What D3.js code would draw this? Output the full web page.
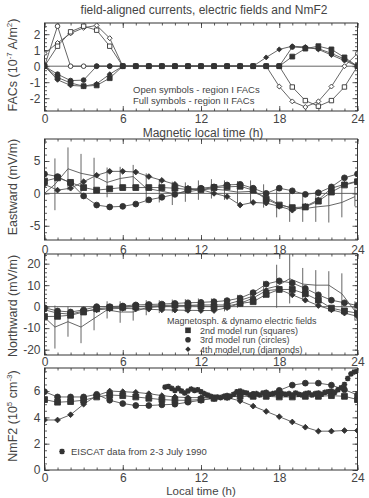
<!DOCTYPE html>
<html>
<head>
<meta charset="utf-8">
<script src="https://cdn.jsdelivr.net/npm/d3@7"></script>
<style>
body { margin: 0; background: #fff; }
svg { font-family: "Liberation Sans", Arial, sans-serif; }
</style>
</head>
<body>
<div id="chart"></div>
<script>
// ---- data ----
var hours = [0,1,2,3,4,5,6,7,8,9,10,11,12,13,14,15,16,17,18,19,20,21,22,23,24];
var hourTicks = [0, 6, 12, 18, 24];

// FACs (10^-7 A/m2): open = region I, full = region II
var facSqOpen = [0,1.25,2.15,2.5,2.25,1.25,0,0,0,0,0,0,0,0,0,0,0,0,0,-1.3,-2.15,-2.5,-2.15,-1.3,0];
var facSqFull = [0,-0.7,-1.05,-1.25,-1.2,-0.75,0,0,0,0,0,0,0,0,0,0,0,0,0,0.6,1.1,1.25,1.05,0.55,0];
var facCiOpen = [0,2.5,0,0,0,0,0,0,0,0,0,0,0,0,0,0,0,0,0,null,null,null,null,null,null];
var facCiFull = [0,-0.5,-0.9,-0.87,0,0,0,0,0,0,0,0,0,0,0,0,0,0,0,1.2,1.15,1.1,0.8,0.45,0];
var facDiOpen = [0.8,1.45,2.05,2.4,2.55,1.75,0,0,0,0,0,0,0,0,0,0,0,0,-1.27,-2.2,-2.55,-2.2,-1.27,0,0.8];
var facDiFull = [0,-0.85,-1.2,-1.25,-1.1,-0.5,0,0,0,0,0,0,0,0,0,0,0,0.55,1.05,1.25,1.2,1.05,0.7,0.35,0];

// observed electric fields (with error bars)
var obsHours = [0,0.8,1.8,2.8,3.8,4.8,5.8,6.8,7.8,8.8,9.8,10.8,11.8,12.8,13.8,14.8,15.8,16.8,17.8,18.8,19.8,20.8,21.8,22.8,23.8];
var obsEast = [0,1.4,3.8,3.1,2.7,1.7,2.3,2.6,0.8,0.4,0,0.2,0.5,0.7,0.5,0.2,0.3,-0.4,-1.5,-2.2,-2.4,-2.1,-1.9,-1.4,-0.5];
var errEast = [0,4,3.3,3,2.8,2.3,1.8,1.8,2.3,1.8,1.8,1.5,1.5,1.5,1.5,1.7,1.7,1.8,2.2,2.2,2,2.3,2.6,2.3,1.5];
var obsNorth = [-5,-9.5,-7,-9.5,-5.5,-1.5,-2.5,-2.5,-0.5,0,0.3,0.5,0.8,0.8,0.8,2.5,4.5,8,9.5,13,10.5,10,10,6,-2];
var errNorth = [0,10,7,7.5,5.5,4,5,4,3.5,3,3,3,3,3,3,3,3,4,10,11.5,7.5,7,6.5,9.5,4.5];

// model runs: squares = 2nd, circles = 3rd, diamonds = 4th
var eastSq = [1.9,2.4,1.7,0.9,0.5,0.7,0.9,0.9,0.9,0.9,0.8,0.6,0.6,0.9,1.0,1.1,0.5,-0.9,-1.8,-2.2,-2.1,-1.2,0.2,1.3,1.8];
var eastCi = [3.0,2.6,1.6,-0.4,-1.8,-2.1,-2.0,-1.65,-1.0,-0.6,-0.15,0.5,0.8,1.0,1.3,1.4,0.8,0.0,0.8,0.4,-0.15,0.1,1.0,2.4,3.0];
var eastDi = [1.4,0.5,0.8,1.8,2.8,3.4,3.4,3.3,2.6,2.0,1.4,0.8,0.6,0.0,-0.5,-1.8,-1.4,-1.5,-2.0,-2.6,-2.0,-1.0,0.8,1.4,1.9];

var northSq = [-4.6,-4.5,-4.0,-2.5,-1.0,-0.5,-0.3,0,0.3,0.5,0.7,0.5,0.3,0,0.3,1.5,2.3,5.7,8,8,6,3,-0.7,-2,-3];
var northCi = [-0.5,-2,-2.5,-1.5,0,0,0.3,0.8,1,1.2,1.5,1.8,2,2.3,2.8,4,6.5,10.5,12,11,8.5,5.5,3,1.8,0.5];
var northDi = [-1.5,-3,-3.5,-2,-1.5,-1,-0.8,-1,-1.2,-1.5,-1.6,-1.7,-1.8,-1.8,-0.5,1.5,4,7.5,8,5.5,3,0.5,-1.5,-3,-4.5];

// NmF2 (10^5 cm^-3)
var nmSq = [5.35,5.15,5.2,5.3,5.55,5.7,5.65,5.55,5.45,5.35,5.3,5.3,5.35,5.45,5.55,5.6,5.6,5.6,5.55,5.55,5.6,5.6,5.65,5.6,5.35];
var nmCi = [5.95,5.55,5.55,5.55,5.75,5.3,5.05,4.9,4.9,4.95,5.0,5.15,5.3,5.45,5.55,5.75,5.75,5.8,6.05,6.45,6.6,6.6,6.45,6.1,5.7];
var nmDi = [3.8,3.8,4.2,5.0,5.65,6.0,5.95,5.9,5.8,5.65,5.55,5.5,5.5,5.5,5.5,5.25,4.85,4.45,4.05,3.65,3.25,2.95,2.95,3.0,3.0];

var eiscatHours = [9.25,9.5,9.75,10,10.25,10.5,10.75,11,11.25,11.5,11.75,12,12.25,12.5,12.75,13,13.25,13.5,13.75,14,
  14.25,14.5,14.75,15,15.25,15.5,15.75,16,16.25,16.5,16.75,17,17.25,17.5,17.75,18,18.25,18.5,18.75,19,
  19.25,19.5,19.75,20,20.25,20.5,20.75,21,21.25,21.5,21.75,22,22.25,22.5,22.75,23,23.25,23.5,23.75,24];
var eiscatNm = [6.3,6.35,6.2,6.05,6.2,6.0,5.85,6.0,6.15,6.05,6.1,5.95,5.8,5.7,5.6,5.5,5.55,5.5,5.6,5.65,
  5.6,5.75,5.95,6.0,5.9,5.85,5.7,5.75,5.8,5.7,5.85,5.9,5.75,5.8,5.85,5.7,5.8,5.75,5.8,5.7,
  5.85,5.75,5.7,5.8,5.85,5.7,5.8,5.85,5.75,5.9,5.95,6.0,5.9,6.1,6.25,6.5,6.95,7.3,7.45,7.5];

// ---- layout ----
var width = 369, height = 498;
var left = 44.5, right = 357.5;
var ink = "#333";
var textCol = "#444";
var lineCol = "#555";

var svg = d3.select("#chart").append("svg")
  .attr("width", width)
  .attr("height", height);

var x = d3.scaleLinear().domain([0, 24]).range([left, right]);

var panelCount = 0;
function makePanel(top, bottom, domain, major, minorStep, pad) {
  var y = d3.scaleLinear().domain(domain).range([bottom, top]);
  var g = svg.append("g");
  var id = "clip" + (panelCount++);
  svg.append("clipPath").attr("id", id)
    .append("rect").attr("x", left).attr("y", top)
    .attr("width", right - left).attr("height", bottom - top);

  var minorY = d3.range(Math.ceil(domain[0] / minorStep) * minorStep, domain[1], minorStep);
  var fmt = d => String(d);

  g.append("g").attr("transform", `translate(0,${bottom})`)
    .call(d3.axisBottom(x).tickValues(hourTicks).tickSize(-5).tickPadding(pad).tickFormat(fmt));
  g.append("g").attr("transform", `translate(0,${bottom})`)
    .call(d3.axisBottom(x).ticks(24).tickSize(-2.5).tickFormat(""));
  g.append("g").attr("transform", `translate(0,${top})`)
    .call(d3.axisTop(x).tickValues(hourTicks).tickSize(-5).tickFormat(""));
  g.append("g").attr("transform", `translate(0,${top})`)
    .call(d3.axisTop(x).ticks(24).tickSize(-2.5).tickFormat(""));
  g.append("g").attr("transform", `translate(${left},0)`)
    .call(d3.axisLeft(y).tickValues(major).tickSize(-5).tickPadding(4).tickFormat(fmt));
  g.append("g").attr("transform", `translate(${left},0)`)
    .call(d3.axisLeft(y).tickValues(minorY).tickSize(-2.5).tickFormat(""));
  g.append("g").attr("transform", `translate(${right},0)`)
    .call(d3.axisRight(y).tickValues(major).tickSize(-5).tickFormat(""));
  g.append("g").attr("transform", `translate(${right},0)`)
    .call(d3.axisRight(y).tickValues(minorY).tickSize(-2.5).tickFormat(""));

  g.selectAll(".domain").remove();
  g.selectAll(".tick line").attr("stroke", ink).attr("stroke-width", 0.8);
  g.selectAll(".tick text").attr("fill", textCol).style("font-size", "12px")
    .style("font-family", '"Liberation Sans", Arial, sans-serif');

  g.append("rect")
    .attr("x", left).attr("y", top)
    .attr("width", right - left).attr("height", bottom - top)
    .attr("fill", "none").attr("stroke", ink).attr("stroke-width", 1);

  var plot = svg.append("g").attr("clip-path", `url(#${id})`);
  return {y: y, plot: plot};
}

function markerPath(shape, s) {
  if (shape === "square") return `M${-s},${-s}H${s}V${s}H${-s}Z`;
  if (shape === "diamond") return `M0,${-s * 1.3}L${s * 1.3},0L0,${s * 1.3}L${-s * 1.3},0Z`;
  if (shape === "star") return `M${-s},0H${s}M0,${-s}V${s}M${-s * 0.75},${-s * 0.75}L${s * 0.75},${s * 0.75}M${-s * 0.75},${s * 0.75}L${s * 0.75},${-s * 0.75}`;
  return d3.symbol(d3.symbolCircle, Math.PI * s * s)();
}

function series(p, xs, ys, shape, filled, size, showLine) {
  var pts = xs.map((h, i) => [h, ys[i]]).filter(d => d[1] !== null);
  if (showLine !== false) {
    p.plot.append("path")
      .datum(xs.map((h, i) => [h, ys[i]]))
      .attr("fill", "none")
      .attr("stroke", lineCol)
      .attr("stroke-width", 0.9)
      .attr("d", d3.line().defined(d => d[1] !== null).x(d => x(d[0])).y(d => p.y(d[1])));
  }
  p.plot.selectAll(null)
    .data(pts).enter()
    .append("path")
    .attr("transform", d => `translate(${x(d[0])},${p.y(d[1])})`)
    .attr("d", markerPath(shape, size))
    .attr("fill", shape === "star" ? "none" : (filled ? ink : "#fff"))
    .attr("stroke", ink)
    .attr("stroke-width", shape === "star" ? 1.6 : 0.9);
}

function zeroLine(p) {
  p.plot.append("line")
    .attr("x1", left).attr("x2", right)
    .attr("y1", p.y(0)).attr("y2", p.y(0))
    .attr("stroke", lineCol).attr("stroke-width", 0.9);
}

function obsLine(p, vals, errs) {
  p.plot.append("path")
    .datum(obsHours.map((h, i) => [h, vals[i]]))
    .attr("fill", "none").attr("stroke", lineCol).attr("stroke-width", 0.9)
    .attr("d", d3.line().x(d => x(d[0])).y(d => p.y(d[1])));
  p.plot.selectAll(null)
    .data(obsHours.map((h, i) => [h, vals[i], errs[i]]).filter(d => d[2] > 0))
    .enter().append("line")
    .attr("x1", d => x(d[0])).attr("x2", d => x(d[0]))
    .attr("y1", d => p.y(d[1] - d[2])).attr("y2", d => p.y(d[1] + d[2]))
    .attr("stroke", lineCol).attr("stroke-width", 0.9);
}

function label(txt, xPos, yPos, size, anchor) {
  return svg.append("text")
    .attr("x", xPos).attr("y", yPos)
    .attr("text-anchor", anchor || "start")
    .attr("fill", textCol)
    .style("font-size", size + "px")
    .text(txt);
}

function yTitle(parts, xPos, yMid) {
  var t = svg.append("text")
    .attr("transform", `translate(${xPos},${yMid}) rotate(-90)`)
    .attr("text-anchor", "middle")
    .attr("fill", textCol)
    .style("font-size", "12.5px");
  parts.forEach(function(pt) {
    var s = t.append("tspan").text(pt[0]);
    if (pt[1] === "sup") s.attr("dy", -5).style("font-size", "8px");
    if (pt[1] === "back") s.attr("dy", 5);
  });
}

// ---- title ----
label("field-aligned currents, electric fields and NmF2", 204, 14, 12, "middle");

// ---- panel 1: FACs ----
var p1 = makePanel(23, 111, [-2.8, 2.7], [-2, -1, 0, 1, 2], 0.25, 3);
zeroLine(p1);
series(p1, hours, facCiOpen, "circle", false, 2.3);
series(p1, hours, facDiOpen, "diamond", false, 1.9);
series(p1, hours, facSqOpen, "square", false, 2.2);
series(p1, hours, facDiFull, "diamond", true, 1.9);
series(p1, hours, facCiFull, "circle", true, 2.4);
series(p1, hours, facSqFull, "square", true, 2.4);
label("Open symbols - region I FACs", 133, 93, 9.5);
label("Full symbols - region II FACs", 133, 104, 9.5);
label("Magnetic local time (h)", 203, 137, 12, "middle");
yTitle([["FACs (10"], ["-7", "sup"], [" A/m", "back"], ["2", "sup"], [")", "back"]], 17, 65);

// ---- panel 2: eastward ----
var p2 = makePanel(139, 240, [-7.2, 8.4], [-5, 0, 5], 1, 5);
zeroLine(p2);
obsLine(p2, obsEast, errEast);
series(p2, hours, eastDi, "diamond", true, 2.2);
series(p2, hours, eastCi, "circle", true, 2.9);
series(p2, hours, eastSq, "square", true, 2.9);
yTitle([["Eastward (mV/m)"]], 17, 187);

// ---- panel 3: northward ----
var p3 = makePanel(254, 355, [-22.5, 24.5], [-20, -10, 0, 10, 20], 2, 2);
zeroLine(p3);
obsLine(p3, obsNorth, errNorth);
series(p3, hours, northDi, "diamond", true, 2.2);
series(p3, hours, northCi, "circle", true, 2.9);
series(p3, hours, northSq, "square", true, 2.9);
yTitle([["Northward (mV/m)"]], 17, 306);

label("Magnetosph. & dynamo electric fields", 167, 323.5, 9);
var legendItems = [["square", "2nd model run (squares)", 333.5], ["circle", "3rd model run (circles)", 343], ["diamond", "4th model run (diamonds)", 352.5]];
legendItems.forEach(function(it) {
  svg.append("path")
    .attr("transform", `translate(188,${it[2] - 3.2})`)
    .attr("d", markerPath(it[0], it[0] === "diamond" ? 2.1 : 2.8))
    .attr("fill", ink);
  label(it[1], 200, it[2], 9);
});

// ---- panel 4: NmF2 ----
var p4 = makePanel(368, 470, [0, 7.75], [0, 2, 4, 6], 0.5, 3);
series(p4, hours, nmDi, "diamond", true, 2.2);
series(p4, hours, nmCi, "circle", true, 2.9);
series(p4, hours, nmSq, "square", true, 2.9);
series(p4, eiscatHours, eiscatNm, "star", true, 2.8, false);
svg.append("path")
  .attr("transform", "translate(62,451.5)")
  .attr("d", markerPath("star", 2.8))
  .attr("fill", "none").attr("stroke", ink).attr("stroke-width", 1.6);
label("EISCAT data from 2-3 July 1990", 71, 455, 9.5);
label("Local time (h)", 201, 495, 11.5, "middle");
yTitle([["NmF2 (10"], ["5", "sup"], [" cm", "back"], ["-3", "sup"], [")", "back"]], 17, 416);
</script>
</body>
</html>
